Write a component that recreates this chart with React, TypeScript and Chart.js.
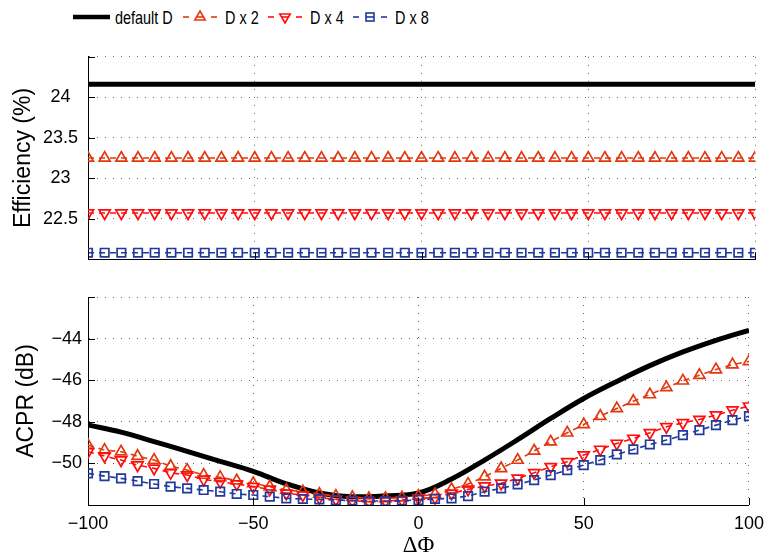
import React, { useEffect, useRef } from 'react';
import { Chart, registerables } from 'chart.js';

Chart.register(...registerables);

// ---------- data ----------
const phi = [
  -100, -95, -90, -85, -80, -75, -70, -65, -60, -55, -50, -45, -40, -35, -30, -25, -20, -15, -10, -5,
  0, 5, 10, 15, 20, 25, 30, 35, 40, 45, 50, 55, 60, 65, 70, 75, 80, 85, 90, 95, 100,
];
const phiLine = [-100, -90, -80, -70, -60, -50, -40, -30, -20, -10, 0, 10, 20, 30, 40, 50, 60, 70, 80, 90, 100];

const seriesNames = ['default D', 'D x 2', 'D x 4', 'D x 8'];

const effDefault = [
  24.16, 24.16, 24.16, 24.16, 24.16, 24.16, 24.16, 24.16, 24.16, 24.16, 24.16,
  24.16, 24.16, 24.16, 24.16, 24.16, 24.16, 24.16, 24.16, 24.16, 24.16,
];
const effD2 = [
  23.25, 23.25, 23.25, 23.25, 23.25, 23.25, 23.25, 23.25, 23.25, 23.25, 23.25, 23.25, 23.25, 23.25,
  23.25, 23.25, 23.25, 23.25, 23.25, 23.25, 23.25, 23.25, 23.25, 23.25, 23.25, 23.25, 23.25, 23.25,
  23.25, 23.25, 23.25, 23.25, 23.25, 23.25, 23.25, 23.25, 23.25, 23.25, 23.25, 23.25, 23.25,
];
const effD4 = [
  22.57, 22.57, 22.57, 22.57, 22.57, 22.57, 22.57, 22.57, 22.57, 22.57, 22.57, 22.57, 22.57, 22.57,
  22.57, 22.57, 22.57, 22.57, 22.57, 22.57, 22.57, 22.57, 22.57, 22.57, 22.57, 22.57, 22.57, 22.57,
  22.57, 22.57, 22.57, 22.57, 22.57, 22.57, 22.57, 22.57, 22.57, 22.57, 22.57, 22.57, 22.57,
];
const effD8 = [
  22.08, 22.08, 22.08, 22.08, 22.08, 22.08, 22.08, 22.08, 22.08, 22.08, 22.08, 22.08, 22.08, 22.08,
  22.08, 22.08, 22.08, 22.08, 22.08, 22.08, 22.08, 22.08, 22.08, 22.08, 22.08, 22.08, 22.08, 22.08,
  22.08, 22.08, 22.08, 22.08, 22.08, 22.08, 22.08, 22.08, 22.08, 22.08, 22.08, 22.08, 22.08,
];

const acprDefault = [
  -48.15, -48.5, -48.95, -49.42, -49.9, -50.38, -50.98, -51.42, -51.6, -51.56, -51.42,
  -50.75, -49.84, -48.86, -47.84, -46.88, -46.06, -45.3, -44.64, -44.08, -43.6,
];
const acprD2 = [
  -49.12, -49.36, -49.44, -49.65, -49.84, -50.13, -50.32, -50.56, -50.67, -50.83, -50.96,
  -51.12, -51.28, -51.36, -51.47, -51.57, -51.63, -51.68, -51.68, -51.65, -51.57,
  -51.49, -51.25, -50.99, -50.64, -50.24, -49.84, -49.4, -48.96, -48.53, -48.13,
  -47.73, -47.36, -47.01, -46.69, -46.35, -46.03, -45.76, -45.49, -45.25, -45.1,
];
const acprD4 = [
  -49.44, -49.65, -49.84, -50.08, -50.24, -50.45, -50.56, -50.77, -50.88, -50.99, -51.12,
  -51.25, -51.44, -51.52, -51.65, -51.73, -51.79, -51.84, -51.81, -51.76, -51.68,
  -51.65, -51.44, -51.25, -51.09, -50.96, -50.72, -50.45, -50.16, -49.92, -49.6,
  -49.33, -49.04, -48.8, -48.53, -48.24, -48.05, -47.89, -47.68, -47.44, -47.25,
];
const acprD8 = [
  -50.48, -50.61, -50.72, -50.85, -50.99, -51.12, -51.2, -51.28, -51.36, -51.47, -51.52,
  -51.6, -51.68, -51.71, -51.73, -51.76, -51.79, -51.81, -51.81, -51.79, -51.76,
  -51.71, -51.68, -51.57, -51.36, -51.2, -51.01, -50.8, -50.56, -50.32, -50.08,
  -49.84, -49.57, -49.33, -49.09, -48.88, -48.64, -48.4, -48.16, -47.92, -47.73,
];

const xTicks = [-100, -50, 0, 50, 100];
const effTicks = [22, 22.5, 23, 23.5, 24, 24.5];
const effTickLabels = [22.5, 23, 23.5, 24];
const acprTicks = [-52, -50, -48, -46, -44, -42];
const acprTickLabels = [-50, -48, -46, -44];

// ---------- styles ----------
const COLORS = ['#000000', '#e2380f', '#ff0d0d', '#1f3a9c'];
const FONT = '"Liberation Sans", Arial, Helvetica, sans-serif';
const GRID_COLOR = 'rgba(0,0,0,0.6)';

const fmt = (v: number) => String(v).replace('-', '\u2212');

const inwardTicks = {
  id: 'inwardTicks',
  afterDraw(chart: any) {
    const { ctx, chartArea: a, scales } = chart;
    ctx.save();
    ctx.strokeStyle = '#000';
    ctx.lineWidth = 1;
    ctx.beginPath();
    scales.y.ticks.forEach((t: any) => {
      const y = Math.round(scales.y.getPixelForValue(t.value)) + 0.5;
      ctx.moveTo(a.left, y);
      ctx.lineTo(a.left + 7, y);
    });
    scales.x.ticks.forEach((t: any) => {
      const x = Math.round(scales.x.getPixelForValue(t.value)) + 0.5;
      ctx.moveTo(x, a.bottom);
      ctx.lineTo(x, a.bottom - 7);
    });
    ctx.stroke();
    ctx.restore();
  },
};

function toXY(xs: number[], ys: number[]) {
  return xs.map((x, i) => ({ x, y: ys[i] }));
}

function buildDatasets(def: number[], d2: number[], d4: number[], d8: number[]) {
  const marked = (data: number[], i: number, style: string, rot: number, r: number) => ({
    label: seriesNames[i],
    data: toXY(phi, data),
    borderColor: COLORS[i],
    borderWidth: 1.6,
    borderDash: [6, 5],
    pointStyle: style,
    pointRotation: rot,
    pointRadius: r,
    pointBorderWidth: 1.7,
    pointBorderColor: COLORS[i],
    pointBackgroundColor: 'rgba(0,0,0,0)',
    tension: 0,
    order: 3 - i,
  });
  return [
    {
      label: seriesNames[0],
      data: toXY(phiLine, def),
      borderColor: COLORS[0],
      borderWidth: 5,
      pointRadius: 0,
      tension: 0.4,
      order: 3,
    },
    marked(d2, 1, 'triangle', 0, 6.4),
    marked(d4, 2, 'triangle', 180, 6.4),
    marked(d8, 3, 'rect', 0, 6),
  ];
}

function buildOptions(opts: {
  yMin: number; yMax: number; yTicks: number[]; yLabels: number[]; yTitle: string;
  titlePad: number; crossAlign: string; labelPad: number; bottom: boolean; padTop: number;
}) {
  return {
    responsive: false,
    animation: false,
    events: [],
    layout: { padding: { left: 0, right: 17, top: opts.padTop, bottom: opts.bottom ? 0 : 16 } },
    plugins: { legend: { display: false }, tooltip: { enabled: false } },
    scales: {
      x: {
        type: 'linear',
        min: -100,
        max: 100,
        afterBuildTicks: (s: any) => { s.ticks = xTicks.map((v) => ({ value: v })); },
        afterFit: (s: any) => { s.height = opts.bottom ? 55 : 0; },
        grid: { color: GRID_COLOR, lineWidth: 1, drawTicks: false },
        border: { display: true, color: '#000', width: 1, dash: [1, 7] },
        ticks: {
          display: opts.bottom,
          padding: 8,
          color: '#000',
          font: { family: FONT, size: 18 },
          maxRotation: 0,
          callback: (v: any) => fmt(v),
        },
        title: {
          display: opts.bottom,
          text: '\u0394\u03a6',
          color: '#000',
          font: { family: '"Liberation Serif", "Times New Roman", serif', size: 23 },
          padding: { top: 0, bottom: 0 },
        },
      },
      y: {
        type: 'linear',
        min: opts.yMin,
        max: opts.yMax,
        afterBuildTicks: (s: any) => { s.ticks = opts.yTicks.map((v) => ({ value: v })); },
        afterFit: (s: any) => { s.width = 88; },
        grid: { color: GRID_COLOR, lineWidth: 1, drawTicks: false },
        border: { display: true, color: '#000', width: 1, dash: [1, 7] },
        ticks: {
          padding: opts.labelPad,
          crossAlign: opts.crossAlign,
          color: '#000',
          font: { family: FONT, size: 18 },
          callback: (v: any) => (opts.yLabels.includes(v) ? fmt(v) : ''),
        },
        title: {
          display: true,
          text: opts.yTitle,
          color: '#000',
          font: { family: FONT, size: 23 },
          padding: { top: opts.titlePad, bottom: 0 },
        },
      },
    },
  };
}

function LegendIcon({ idx }: { idx: number }) {
  const c = COLORS[idx];
  if (idx === 0) {
    return (
      <svg width={37} height={20} style={{ display: 'block' }}>
        <line x1={0} y1={10} x2={37} y2={10} stroke={c} strokeWidth={4.5} />
      </svg>
    );
  }
  let marker: React.ReactNode = null;
  if (idx === 1) marker = <polygon points="18,4 23.2,13 12.8,13" fill="none" stroke={c} strokeWidth={1.6} />;
  if (idx === 2) marker = <polygon points="18,16 23.2,7 12.8,7" fill="none" stroke={c} strokeWidth={1.6} />;
  if (idx === 3) marker = <rect x={14} y={6} width={8} height={8} fill="none" stroke={c} strokeWidth={1.6} />;
  return (
    <svg width={36} height={20} style={{ display: 'block' }}>
      <line x1={1} y1={10} x2={7} y2={10} stroke={c} strokeWidth={1.6} />
      <line x1={14} y1={10} x2={22} y2={10} stroke={c} strokeWidth={1.6} />
      <line x1={29} y1={10} x2={35} y2={10} stroke={c} strokeWidth={1.6} />
      {marker}
    </svg>
  );
}

const legendIconLeft = [73, 182, 267, 352];
const legendTextLeft = [115, 225, 310, 395];

export default function App() {
  const topRef = useRef<HTMLCanvasElement>(null);
  const botRef = useRef<HTMLCanvasElement>(null);

  useEffect(() => {
    document.body.style.margin = '0';
    const top = new Chart(topRef.current as HTMLCanvasElement, {
      type: 'line',
      data: { datasets: buildDatasets(effDefault, effD2, effD4, effD8) as any },
      options: buildOptions({
        yMin: 22, yMax: 24.5, yTicks: effTicks, yLabels: effTickLabels, yTitle: 'Efficiency (%)',
        titlePad: 10, crossAlign: 'center', labelPad: 10, bottom: false, padTop: 20,
      }) as any,
      plugins: [inwardTicks],
    });
    const bot = new Chart(botRef.current as HTMLCanvasElement, {
      type: 'line',
      data: { datasets: buildDatasets(acprDefault, acprD2, acprD4, acprD8) as any },
      options: buildOptions({
        yMin: -52, yMax: -42, yTicks: acprTicks, yLabels: acprTickLabels, yTitle: 'ACPR (dB)',
        titlePad: 13, crossAlign: 'near', labelPad: 6, bottom: true, padTop: 17,
      }) as any,
      plugins: [inwardTicks],
    });
    return () => {
      top.destroy();
      bot.destroy();
    };
  }, []);

  return (
    <div style={{ position: 'absolute', left: 0, top: 0, width: 772, height: 560, background: '#fff', overflow: 'hidden' }}>
      {seriesNames.map((name, i) => (
        <React.Fragment key={name}>
          <div style={{ position: 'absolute', left: legendIconLeft[i], top: 7 }}>
            <LegendIcon idx={i} />
          </div>
          <span
            style={{
              position: 'absolute',
              left: legendTextLeft[i],
              top: 8,
              fontFamily: FONT,
              fontSize: 18.5,
              lineHeight: '19px',
              color: '#000',
              whiteSpace: 'nowrap',
              transform: 'scaleX(0.78)',
              transformOrigin: 'left center',
            }}
          >
            {name}
          </span>
        </React.Fragment>
      ))}
      <canvas ref={topRef} width={772} height={244} style={{ position: 'absolute', left: 0, top: 36 }} />
      <canvas ref={botRef} width={772} height={280} style={{ position: 'absolute', left: 0, top: 280 }} />
    </div>
  );
}
